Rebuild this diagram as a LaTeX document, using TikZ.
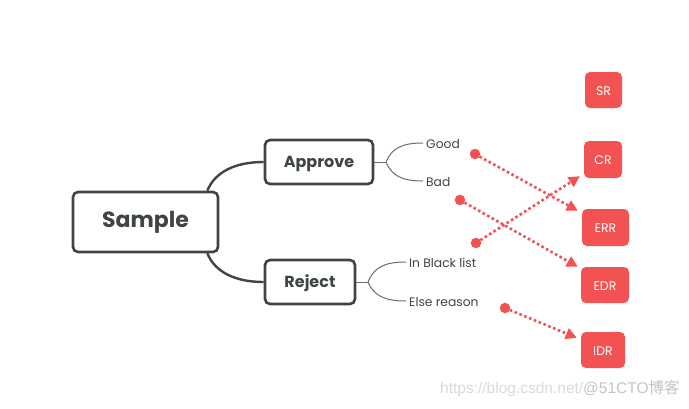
\documentclass[tikz,border=0pt]{standalone}
\usepackage{fontspec}
\setmainfont{Poppins}
\newfontfamily\wmfont{Liberation Sans}
\newfontfamily\cjkfont{Noto Sans CJK SC}
\usetikzlibrary{arrows.meta}
\definecolor{dark}{HTML}{3F4447}
\definecolor{leafline}{HTML}{6A6E70}
\definecolor{redbox}{HTML}{F25252}
\definecolor{wmlight}{HTML}{DADADA}
\definecolor{wmdark}{HTML}{C4C4C4}
\tikzset{
  capcenter/.style={text height=1em, text depth=0pt},
  mainbox/.style={draw=dark, line width=2.6pt, rounded corners=5pt, fill=white, inner sep=0pt, text=dark, capcenter},
  leaf/.style={anchor=west, inner sep=0pt, text=dark, font=\fontsize{12.3}{14}\selectfont, capcenter},
  rednode/.style={fill=redbox, rounded corners=5pt, inner sep=0pt, text=white, font=\fontsize{12.5}{14}\selectfont, capcenter},
  branch/.style={draw=dark, line width=2.4pt},
  twig/.style={draw=leafline, line width=1pt},
  reddot/.style={circle, fill=redbox, inner sep=0pt, minimum size=10.5pt},
  redarrow/.style={draw=redbox, line width=2.6pt, dash pattern=on 2.6pt off 2.6pt, -{Triangle[length=11pt,width=11pt]}},
}
\begin{document}
\begin{tikzpicture}[x=1pt,y=-1pt]
\useasboundingbox[fill=white] (0,0) rectangle (689,408);
% main boxes
\node[mainbox, minimum width=145pt, minimum height=60pt, font=\fontsize{22}{24}\bfseries\selectfont] (sample) at (145.5,222) {Sample};
\node[mainbox, minimum width=108pt, minimum height=44pt, font=\fontsize{16}{18}\bfseries\selectfont] (approve) at (319,162) {Approve};
\node[mainbox, minimum width=90pt, minimum height=44pt, font=\fontsize{16}{18}\bfseries\selectfont] (reject) at (310,282) {Reject};
% branches
\draw[branch] ([xshift=-12pt]sample.north east) .. controls (215,172) and (235,162) .. (approve.west);
\draw[branch] ([xshift=-12pt]sample.south east) .. controls (215,272) and (235,282) .. (reject.west);
% leaves
\node[leaf] (good) at (426,143) {Good};
\node[leaf] (bad) at (426,181) {Bad};
\node[leaf] (black) at (409,262) {In Black list};
\node[leaf] (else) at (409,301) {Else reason};
\coordinate (aj) at (386,162);
\coordinate (rj) at (368,282);
\draw[twig] (approve.east) -- (aj);
\draw[twig] (aj) .. controls (392,148) and (402,143) .. ([xshift=-3pt]good.west);
\draw[twig] (aj) .. controls (392,176) and (402,181) .. ([xshift=-3pt]bad.west);
\draw[twig] (reject.east) -- (rj);
\draw[twig] (rj) .. controls (374,267) and (385,262) .. ([xshift=-3pt]black.west);
\draw[twig] (rj) .. controls (374,296) and (385,301) .. ([xshift=-3pt]else.west);
% red boxes
\node[rednode, minimum width=37pt, minimum height=36pt] (sr) at (603.5,90) {SR};
\node[rednode, minimum width=38pt, minimum height=37pt] (cr) at (603,159.5) {CR};
\node[rednode, minimum width=47pt, minimum height=37pt] (err) at (605.5,227.5) {ERR};
\node[rednode, minimum width=48pt, minimum height=36pt] (edr) at (605,285) {EDR};
\node[rednode, minimum width=44pt, minimum height=36pt] (idr) at (603,350) {IDR};
% dots
\node[reddot] (d1) at (475,154) {};
\node[reddot] (d2) at (460,200) {};
\node[reddot] (d3) at (476,243) {};
\node[reddot] (d4) at (505,308) {};
\draw[redarrow] (d1.center) -- ([xshift=-4pt,yshift=-2pt]err.north west);
\draw[redarrow] (d2.center) -- ([xshift=-3pt,yshift=0pt]edr.north west);
\draw[redarrow] (d3.center) -- ([xshift=-4pt,yshift=2pt]cr.south west);
\draw[redarrow] (d4.center) -- ([xshift=-4pt,yshift=-6pt]idr.north west);
% watermark
\node[anchor=west, inner sep=0pt, font=\wmfont\fontsize{15.5}{17}\selectfont] (wm) at (440,389) {\textcolor{wmlight}{https://blog.csdn.net/}\textcolor{wmdark}{@51CTO{\cjkfont 博客}}};
\end{tikzpicture}
\end{document}
